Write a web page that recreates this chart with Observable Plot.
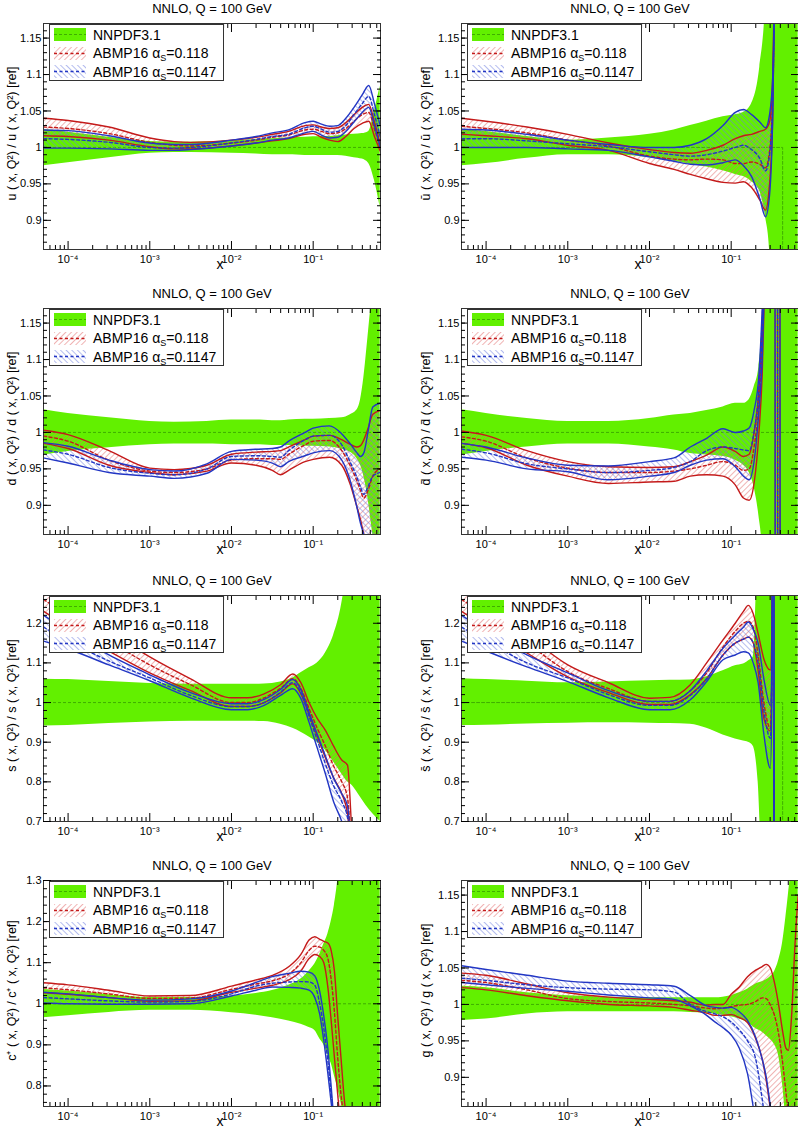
<!DOCTYPE html>
<html>
<head>
<meta charset="utf-8">
<script src="https://cdn.jsdelivr.net/npm/d3@7"></script>
<script src="https://cdn.jsdelivr.net/npm/@observablehq/plot@0.6"></script>
<style>
  html,body{margin:0;padding:0;background:#fff;}
  #page{position:relative;width:798px;height:1135px;overflow:hidden;background:#fff;font-family:"Liberation Sans",Arial,Helvetica,sans-serif;}
  .panel{position:absolute;width:400px;height:285px;}
  .panel > svg{position:absolute;left:0;top:0;}
  .legend{position:absolute;width:173px;height:55px;background:#fff;border:1px solid #333;font-size:14px;line-height:1;color:#000;}
  .legend .row{position:absolute;left:4px;height:16px;display:flex;align-items:center;white-space:nowrap;}
  .legend .row svg{margin-right:7px;flex:none;}
  .legend sub{font-size:9px;vertical-align:-3px;line-height:0;}
</style>
</head>
<body>
<svg width="0" height="0" style="position:absolute">
  <defs>
    <pattern id="hatchRed" patternUnits="userSpaceOnUse" width="4" height="4" patternTransform="rotate(45)">
      <line x1="0" y1="0" x2="0" y2="4" stroke="#e26a6a" stroke-width="1"/>
    </pattern>
    <pattern id="hatchBlue" patternUnits="userSpaceOnUse" width="4" height="4" patternTransform="rotate(-45)">
      <line x1="0" y1="0" x2="0" y2="4" stroke="#6c7ce0" stroke-width="1"/>
    </pattern>
  </defs>
</svg>
<div id="page"></div>
<script>
// ---------------- text ----------------
const TITLE = "NNLO, Q = 100 GeV";
const legendLabels = ["NNPDF3.1", "ABMP16 α<sub>S</sub>=0.118", "ABMP16 α<sub>S</sub>=0.1147"];
const xMajorTicks = [1e-4, 1e-3, 1e-2, 1e-1];
const yTicksFine = [0.9, 0.95, 1, 1.05, 1.1, 1.15];
const yTicksS = [0.7, 0.8, 0.9, 1, 1.1, 1.2];
const yTicksC = [0.8, 0.9, 1, 1.1, 1.2, 1.3];

// ---------------- u ----------------
const uLogX    = [-4.3,-4,-3.5,-3,-2.7,-2.5,-2,-1.7,-1.5,-1.3,-1.1,-1.0,-0.9,-0.8,-0.7,-0.6,-0.5,-0.4,-0.32,-0.25,-0.18];
const uGreenHi = [1.025,1.021,1.014,1.008,1.007,1.007,1.009,1.011,1.012,1.013,1.014,1.0145,1.015,1.015,1.016,1.017,1.018,1.019,1.022,1.05,1.084];
const uGreenLo = [0.975,0.979,0.986,0.992,0.993,0.993,0.992,0.991,0.99,0.99,0.989,0.989,0.989,0.989,0.989,0.988,0.986,0.984,0.978,0.955,0.918];
const uRedHi   = [1.04,1.037,1.028,1.013,1.008,1.007,1.01,1.014,1.018,1.022,1.03,1.031,1.028,1.026,1.027,1.034,1.045,1.055,1.059,1.035,1.005];
const uRedC    = [1.028,1.026,1.019,1.007,1.003,1.002,1.006,1.01,1.014,1.017,1.024,1.025,1.022,1.019,1.02,1.026,1.036,1.045,1.048,1.025,1.0];
const uRedLo   = [1.016,1.015,1.01,1.001,0.998,0.998,1.002,1.006,1.009,1.012,1.018,1.019,1.014,1.01,1.008,1.015,1.026,1.033,1.036,1.015,0.995];
const uBlueHi  = [1.024,1.023,1.016,1.006,1.004,1.004,1.01,1.015,1.02,1.024,1.034,1.036,1.032,1.029,1.03,1.04,1.055,1.072,1.085,1.06,1.03];
const uBlueC   = [1.012,1.011,1.007,1.0,0.999,1.0,1.006,1.011,1.015,1.018,1.027,1.029,1.025,1.021,1.022,1.03,1.045,1.06,1.07,1.045,1.015];
const uBlueLo  = [0.999,0.999,0.998,0.996,0.996,0.997,1.002,1.006,1.01,1.013,1.02,1.022,1.017,1.013,1.014,1.022,1.035,1.048,1.055,1.03,1.0];

// ---------------- ubar ----------------
const ubLogX    = [-4.3,-4,-3.5,-3,-2.5,-2,-1.7,-1.5,-1.3,-1.1,-0.95,-0.85,-0.75,-0.65,-0.58,-0.53,-0.49,-0.46,-0.43,-0.35,-0.18];
const ubGreenHi = [1.025,1.022,1.015,1.01,1.013,1.018,1.024,1.03,1.036,1.042,1.045,1.048,1.06,1.11,1.2,1.4,1.5,1.5,1.5,1.5,1.5];
const ubGreenLo = [0.975,0.978,0.985,0.99,0.99,0.986,0.981,0.977,0.973,0.968,0.963,0.96,0.953,0.94,0.905,0.86,0.5,0.5,0.5,0.5,0.5];
const ubRedHi   = [1.04,1.036,1.028,1.018,1.006,0.997,0.993,0.992,0.996,1.003,1.012,1.016,1.018,1.022,1.025,1.035,1.1,1.3,1.6,2,2];
const ubRedC    = [1.029,1.026,1.02,1.01,1.002,0.988,0.984,0.983,0.984,0.983,0.978,0.978,0.98,0.977,0.972,0.995,1.08,1.3,1.6,2,2];
const ubRedLo   = [1.018,1.016,1.012,1.003,0.996,0.978,0.97,0.963,0.957,0.952,0.951,0.953,0.945,0.928,0.914,0.95,1.05,1.3,1.6,2,2];
const ubBlueHi  = [1.025,1.024,1.018,1.01,1.004,1.0,1.0,1.003,1.012,1.03,1.048,1.052,1.045,1.035,1.027,1.045,1.1,1.3,1.6,2,2];
const ubBlueC   = [1.012,1.012,1.009,1.005,1.001,0.994,0.99,0.988,0.99,0.995,1.0,1.003,0.997,0.985,0.968,0.99,1.07,1.3,1.6,2,2];
const ubBlueLo  = [1.0,1.0,1.0,0.998,0.996,0.987,0.981,0.977,0.976,0.979,0.983,0.975,0.96,0.93,0.905,0.935,1.05,1.3,1.6,2,2];
const ubCentreLogX = [-4.3,-0.37,-0.37];
const ubCentreY    = [1,1,0.5];

// ---------------- d ----------------
const dLogX    = [-4.3,-4,-3.5,-3,-2.7,-2.3,-2,-1.7,-1.5,-1.4,-1.3,-1.1,-1.0,-0.8,-0.65,-0.55,-0.47,-0.42,-0.38,-0.33,-0.27,-0.18];
const dGreenHi = [1.031,1.026,1.02,1.015,1.014,1.015,1.017,1.017,1.016,1.016,1.017,1.018,1.018,1.019,1.02,1.024,1.03,1.045,1.075,1.13,1.2,1.3];
const dGreenLo = [0.969,0.974,0.979,0.983,0.984,0.984,0.983,0.983,0.982,0.982,0.982,0.981,0.981,0.98,0.977,0.973,0.965,0.955,0.94,0.91,0.86,0.8];
const dRedHi   = [1.003,0.997,0.975,0.951,0.949,0.955,0.97,0.973,0.974,0.975,0.98,0.99,0.995,0.996,0.99,0.984,0.98,0.982,0.99,1.005,1.025,1.03];
const dRedC    = [0.995,0.988,0.962,0.947,0.945,0.95,0.962,0.964,0.964,0.963,0.97,0.983,0.988,0.989,0.975,0.955,0.935,0.92,0.91,0.92,0.94,0.95];
const dRedLo   = [0.985,0.978,0.955,0.945,0.942,0.947,0.958,0.955,0.948,0.942,0.948,0.96,0.963,0.966,0.955,0.93,0.9,0.88,0.86,0.84,0.82,0.8];
const dBlueHi  = [0.986,0.981,0.962,0.949,0.947,0.957,0.974,0.977,0.978,0.98,0.988,1.0,1.006,1.009,0.998,0.985,0.973,0.967,0.972,1.0,1.035,1.04];
const dBlueC   = [0.976,0.97,0.952,0.944,0.942,0.95,0.967,0.968,0.967,0.966,0.975,0.99,0.995,0.996,0.983,0.96,0.94,0.925,0.915,0.925,0.94,0.945];
const dBlueLo  = [0.965,0.958,0.945,0.94,0.937,0.944,0.963,0.962,0.958,0.953,0.96,0.968,0.972,0.975,0.962,0.935,0.9,0.875,0.86,0.84,0.82,0.8];

// ---------------- dbar ----------------
const dbLogX    = [-4.3,-4,-3.5,-3,-2.5,-2,-1.7,-1.5,-1.3,-1.1,-0.95,-0.85,-0.78,-0.72,-0.66,-0.62,-0.58,-0.5,-0.465,-0.455,-0.435,-0.425,-0.405,-0.395,-0.18];
const dbGreenHi = [1.031,1.026,1.019,1.015,1.015,1.019,1.024,1.026,1.03,1.035,1.04,1.04,1.045,1.062,1.09,1.15,1.3,1.5,1.5,1.5,1.5,1.5,1.5,1.5,1.5];
const dbGreenLo = [0.969,0.974,0.98,0.984,0.984,0.98,0.976,0.971,0.969,0.967,0.962,0.955,0.945,0.925,0.885,0.84,0.7,0.5,0.5,0.5,0.5,0.5,0.5,0.5,0.5];
const dbRedHi   = [1.002,0.996,0.975,0.96,0.953,0.952,0.953,0.96,0.969,0.98,0.974,0.967,0.97,1.0,1.06,1.15,1.3,1.6,1.6,-0.5,-0.5,-0.5,-0.5,-0.5,-0.5];
const dbRedC    = [0.994,0.988,0.965,0.951,0.945,0.945,0.947,0.95,0.955,0.96,0.955,0.948,0.95,0.98,1.04,1.12,1.28,1.6,1.6,1.6,1.6,-0.5,-0.5,-0.5,-0.5];
const dbRedLo   = [0.985,0.979,0.955,0.94,0.93,0.932,0.933,0.94,0.942,0.94,0.928,0.91,0.907,0.93,1.0,1.08,1.25,1.6,1.6,1.6,1.6,1.6,1.6,-0.5,-0.5];
const dbBlueHi  = [0.985,0.98,0.965,0.955,0.954,0.96,0.965,0.98,0.992,1.005,1.0,1.002,1.006,1.03,1.08,1.17,1.3,1.6,1.6,-0.5,-0.5,-0.5,-0.5,-0.5,-0.5];
const dbBlueC   = [0.977,0.972,0.957,0.95,0.945,0.948,0.952,0.96,0.975,0.98,0.978,0.976,0.975,1.0,1.06,1.14,1.28,1.6,1.6,1.6,1.6,-0.5,-0.5,-0.5,-0.5];
const dbBlueLo  = [0.966,0.962,0.95,0.946,0.935,0.94,0.945,0.955,0.962,0.964,0.953,0.94,0.935,0.96,1.03,1.1,1.26,1.6,1.6,1.6,1.6,1.6,1.6,-0.5,-0.5];

// ---------------- s ----------------
const sLogX    = [-4.3,-4,-3.5,-3,-2.5,-2,-1.8,-1.6,-1.4,-1.25,-1.15,-1.05,-0.95,-0.85,-0.75,-0.65,-0.58,-0.52,-0.45,-0.35,-0.18];
const sGreenHi = [1.059,1.058,1.053,1.048,1.046,1.046,1.046,1.047,1.052,1.062,1.075,1.088,1.1,1.125,1.17,1.25,1.35,1.5,1.5,1.5,1.5];
const sGreenLo = [0.941,0.942,0.947,0.951,0.953,0.953,0.953,0.952,0.945,0.935,0.925,0.913,0.9,0.88,0.85,0.82,0.8,0.79,0.77,0.74,0.7];
const sRedHi   = [1.29,1.25,1.18,1.115,1.06,1.012,1.012,1.022,1.045,1.072,1.05,1.0,0.96,0.93,0.89,0.855,0.842,0.65,0.5,0.5,0.5];
const sRedC    = [1.26,1.22,1.155,1.095,1.045,1.0,1.0,1.012,1.036,1.06,1.036,0.985,0.935,0.89,0.84,0.8,0.76,0.6,0.5,0.5,0.5];
const sRedLo   = [1.23,1.19,1.13,1.075,1.03,0.99,0.99,1.0,1.024,1.047,1.022,0.97,0.915,0.86,0.81,0.77,0.72,0.6,0.5,0.5,0.5];
const sBlueHi  = [1.22,1.18,1.12,1.07,1.025,0.997,0.997,1.008,1.033,1.058,1.032,0.975,0.92,0.865,0.81,0.77,0.74,0.6,0.5,0.5,0.5];
const sBlueC   = [1.19,1.155,1.105,1.062,1.018,0.99,0.99,1.0,1.026,1.05,1.024,0.965,0.905,0.845,0.79,0.75,0.71,0.6,0.5,0.5,0.5];
const sBlueLo  = [1.155,1.135,1.095,1.055,1.012,0.982,0.982,0.993,1.018,1.035,1.01,0.95,0.885,0.82,0.75,0.7,0.65,0.55,0.5,0.5,0.5];

// ---------------- sbar ----------------
const sbLogX    = [-4.3,-4,-3.5,-3,-2.5,-2,-1.75,-1.5,-1.3,-1.1,-0.95,-0.85,-0.79,-0.73,-0.67,-0.6,-0.52,-0.5,-0.49,-0.48,-0.47,-0.18];
const sbGreenHi = [1.06,1.058,1.054,1.05,1.052,1.055,1.056,1.057,1.065,1.08,1.093,1.097,1.105,1.115,1.4,1.5,1.5,1.5,1.5,1.5,1.5,1.5];
const sbGreenLo = [0.942,0.943,0.946,0.948,0.949,0.948,0.947,0.945,0.935,0.918,0.908,0.903,0.9,0.89,0.8,0.5,0.5,0.5,0.5,0.5,0.5,0.5];
const sbRedHi   = [1.29,1.25,1.17,1.095,1.05,1.011,1.013,1.045,1.1,1.158,1.2,1.23,1.245,1.224,1.174,1.11,1.082,1.2,1.6,2,-1,-1];
const sbRedC    = [1.26,1.22,1.15,1.078,1.035,1.003,1.003,1.03,1.075,1.14,1.18,1.2,1.205,1.19,1.12,1.0,0.935,1.1,1.6,2,-1,-1];
const sbRedLo   = [1.23,1.19,1.125,1.065,1.025,0.995,0.995,1.02,1.06,1.12,1.15,1.16,1.165,1.15,1.08,0.96,0.928,1.1,1.6,2,-1,-1];
const sbBlueHi  = [1.22,1.18,1.12,1.075,1.03,1.003,1.003,1.03,1.08,1.137,1.17,1.19,1.203,1.185,1.15,1.06,0.993,1.15,1.6,2,-1,-1];
const sbBlueC   = [1.19,1.155,1.1,1.062,1.02,0.993,0.993,1.018,1.06,1.12,1.15,1.16,1.165,1.15,1.1,0.98,0.91,1.1,1.6,2,-1,-1];
const sbBlueLo  = [1.155,1.13,1.09,1.053,1.012,0.982,0.982,1.007,1.053,1.108,1.12,1.128,1.125,1.1,1.05,0.92,0.834,1.05,1.6,2,-1,-1];
const sbCentreLogX = [-4.3,-0.37,-0.37];
const sbCentreY    = [1,1,0.5];

// ---------------- c+ ----------------
const cLogX    = [-4.3,-4,-3.5,-3,-2.5,-2,-1.7,-1.5,-1.3,-1.15,-1.05,-0.98,-0.92,-0.87,-0.82,-0.78,-0.74,-0.7,-0.66,-0.62,-0.58,-0.5,-0.18];
const cGreenHi = [1.035,1.031,1.022,1.015,1.015,1.019,1.025,1.032,1.045,1.06,1.08,1.097,1.12,1.145,1.17,1.2,1.24,1.3,1.4,1.5,1.5,1.5,1.5];
const cGreenLo = [0.966,0.971,0.979,0.984,0.984,0.978,0.972,0.966,0.958,0.95,0.942,0.935,0.915,0.9,0.875,0.855,0.825,0.795,0.76,0.72,0.68,0.6,0.5];
const cRedHi   = [1.051,1.046,1.033,1.019,1.02,1.043,1.058,1.069,1.09,1.12,1.155,1.163,1.157,1.152,1.148,1.13,1.08,0.97,0.87,0.77,0.7,0.6,0.5];
const cRedC    = [1.039,1.034,1.024,1.013,1.014,1.035,1.048,1.056,1.072,1.1,1.13,1.14,1.138,1.13,1.11,1.06,0.98,0.87,0.78,0.72,0.65,0.6,0.5];
const cRedLo   = [1.027,1.023,1.015,1.006,1.007,1.028,1.038,1.045,1.058,1.08,1.11,1.12,1.115,1.1,1.04,0.96,0.87,0.78,0.7,0.65,0.6,0.55,0.5];
const cBlueHi  = [1.028,1.024,1.015,1.009,1.012,1.031,1.052,1.066,1.074,1.079,1.077,1.068,1.03,0.97,0.89,0.8,0.7,0.6,0.55,0.5,0.5,0.5,0.5];
const cBlueC   = [1.015,1.012,1.007,1.004,1.006,1.024,1.043,1.05,1.053,1.054,1.053,1.045,1.0,0.94,0.86,0.78,0.7,0.6,0.55,0.5,0.5,0.5,0.5];
const cBlueLo  = [1.002,1.0,0.999,0.999,1.0,1.019,1.033,1.041,1.04,1.038,1.033,1.015,0.975,0.91,0.83,0.76,0.68,0.6,0.55,0.5,0.5,0.5,0.5];

// ---------------- g ----------------
const gLogX    = [-4.3,-4,-3.5,-3,-2.5,-2,-1.7,-1.5,-1.3,-1.2,-1.1,-1.0,-0.9,-0.8,-0.7,-0.62,-0.57,-0.52,-0.47,-0.42,-0.37,-0.33,-0.3,-0.26,-0.22,-0.18];
const gGreenHi = [1.025,1.023,1.016,1.012,1.01,1.009,1.009,1.009,1.009,1.009,1.01,1.012,1.016,1.021,1.028,1.031,1.034,1.038,1.045,1.06,1.085,1.12,1.15,1.2,1.3,1.3];
const gGreenLo = [0.978,0.98,0.987,0.99,0.99,0.99,0.99,0.989,0.988,0.987,0.985,0.983,0.98,0.975,0.967,0.962,0.957,0.952,0.945,0.93,0.89,0.84,0.8,0.7,0.6,0.6];
const gRedHi   = [1.043,1.04,1.028,1.016,1.01,1.007,1.005,1.003,0.999,1.0,1.0,1.014,1.024,1.038,1.047,1.052,1.055,1.05,1.03,1.0,0.963,0.94,0.937,0.985,1.08,1.15];
const gRedC    = [1.033,1.03,1.02,1.008,1.004,1.002,1.0,0.998,0.995,0.994,0.995,0.997,0.999,1.0,1.004,1.009,1.008,0.999,0.985,0.96,0.92,0.88,0.85,0.8,0.75,0.7];
const gRedLo   = [1.023,1.02,1.012,1.005,1.0,0.998,0.996,0.992,0.988,0.985,0.985,0.986,0.982,0.975,0.953,0.925,0.895,0.855,0.8,0.75,0.7,0.7,0.7,0.7,0.7,0.7];
const gBlueHi  = [1.053,1.048,1.04,1.032,1.029,1.027,1.025,1.012,0.998,0.996,0.995,0.996,0.99,0.978,0.955,0.925,0.9,0.86,0.82,0.78,0.75,0.7,0.7,0.7,0.7,0.7];
const gBlueC   = [1.036,1.033,1.027,1.023,1.021,1.02,1.017,1.0,0.99,0.987,0.983,0.976,0.965,0.95,0.925,0.87,0.83,0.8,0.75,0.7,0.7,0.7,0.7,0.7,0.7,0.7];
const gBlueLo  = [1.03,1.027,1.022,1.018,1.013,1.009,1.007,0.998,0.985,0.976,0.968,0.958,0.94,0.905,0.84,0.8,0.75,0.7,0.7,0.7,0.7,0.7,0.7,0.7,0.7,0.7];

// ---------------- layout / style ----------------
const FONT = '"Liberation Sans", Arial, Helvetica, sans-serif';
const GREEN = "#62f000", GREEN_LINE = "#3fae00", RED = "#c41a1a", BLUE = "#2236c4";
const X_DOMAIN = [5e-5, 0.667];
const FRAME_TOPS = [23, 308, 595, 880];

const panels = [
  {col:0,row:0,label:"u ( x, Q²) / u ( x, Q²) [ref]", yDomain:[0.86,1.17], yMajor:yTicksFine, minor:[0.87,1.16,0.01],
   logX:uLogX,gHi:uGreenHi,gLo:uGreenLo,rHi:uRedHi,rC:uRedC,rLo:uRedLo,bHi:uBlueHi,bC:uBlueC,bLo:uBlueLo},
  {col:1,row:0,label:"ū ( x, Q²) / ū ( x, Q²) [ref]", yDomain:[0.86,1.17], yMajor:yTicksFine, minor:[0.87,1.16,0.01],
   logX:ubLogX,gHi:ubGreenHi,gLo:ubGreenLo,rHi:ubRedHi,rC:ubRedC,rLo:ubRedLo,bHi:ubBlueHi,bC:ubBlueC,bLo:ubBlueLo,
   centreLogX:ubCentreLogX, centreY:ubCentreY},
  {col:0,row:1,label:"d ( x, Q²) / d ( x, Q²) [ref]", yDomain:[0.86,1.17], yMajor:yTicksFine, minor:[0.87,1.16,0.01],
   logX:dLogX,gHi:dGreenHi,gLo:dGreenLo,rHi:dRedHi,rC:dRedC,rLo:dRedLo,bHi:dBlueHi,bC:dBlueC,bLo:dBlueLo},
  {col:1,row:1,label:"d\u0304 ( x, Q²) / d\u0304 ( x, Q²) [ref]", yDomain:[0.86,1.17], yMajor:yTicksFine, minor:[0.87,1.16,0.01],
   logX:dbLogX,gHi:dbGreenHi,gLo:dbGreenLo,rHi:dbRedHi,rC:dbRedC,rLo:dbRedLo,bHi:dbBlueHi,bC:dbBlueC,bLo:dbBlueLo},
  {col:0,row:2,label:"s ( x, Q²) / s ( x, Q²) [ref]", yDomain:[0.7,1.27], yMajor:yTicksS, minor:[0.72,1.26,0.02],
   logX:sLogX,gHi:sGreenHi,gLo:sGreenLo,rHi:sRedHi,rC:sRedC,rLo:sRedLo,bHi:sBlueHi,bC:sBlueC,bLo:sBlueLo},
  {col:1,row:2,label:"s\u0304 ( x, Q²) / s\u0304 ( x, Q²) [ref]", yDomain:[0.7,1.27], yMajor:yTicksS, minor:[0.72,1.26,0.02],
   logX:sbLogX,gHi:sbGreenHi,gLo:sbGreenLo,rHi:sbRedHi,rC:sbRedC,rLo:sbRedLo,bHi:sbBlueHi,bC:sbBlueC,bLo:sbBlueLo,
   centreLogX:sbCentreLogX, centreY:sbCentreY},
  {col:0,row:3,label:"c⁺ ( x, Q²) / c⁺ ( x, Q²) [ref]", yDomain:[0.75,1.3], yMajor:yTicksC, minor:[0.76,1.28,0.02],
   logX:cLogX,gHi:cGreenHi,gLo:cGreenLo,rHi:cRedHi,rC:cRedC,rLo:cRedLo,bHi:cBlueHi,bC:cBlueC,bLo:cBlueLo},
  {col:1,row:3,label:"g ( x, Q²) / g ( x, Q²) [ref]", yDomain:[0.86,1.17], yMajor:yTicksFine, minor:[0.87,1.16,0.01],
   logX:gLogX,gHi:gGreenHi,gLo:gGreenLo,rHi:gRedHi,rC:gRedC,rLo:gRedLo,bHi:gBlueHi,bC:gBlueC,bLo:gBlueLo}
];

const SUP = {"-":"⁻","0":"⁰","1":"¹","2":"²","3":"³","4":"⁴","5":"⁵","6":"⁶","7":"⁷","8":"⁸","9":"⁹"};
const fmtX = d => "10" + String(Math.round(Math.log10(d))).split("").map(c => SUP[c]).join("");
const fmtY = d => String(+d.toFixed(2));
const blank = () => "";

const xMinorTicks = [];
for (let n = -5; n <= -1; n++) for (let k = 2; k <= 9; k++) {
  const v = k * 10 ** n;
  if (v > X_DOMAIN[0] && v < X_DOMAIN[1]) xMinorTicks.push(v);
}

function buildPanel(p) {
  const rows = p.logX.map((l, i) => ({
    x: 10 ** l, gLo: p.gLo[i], gHi: p.gHi[i],
    rLo: p.rLo[i], rC: p.rC[i], rHi: p.rHi[i],
    bLo: p.bLo[i], bC: p.bC[i], bHi: p.bHi[i]
  }));
  const [m0, m1, step] = p.minor;
  const yMinor = d3.range(Math.round((m1 - m0) / step) + 1).map(i => +(m0 + i * step).toFixed(3));
  const curve = "monotone-x";
  const solid = {curve, clip: true, strokeWidth: 1.4};
  const dashed = {curve, clip: true, strokeWidth: 1.4, strokeDasharray: "3,2.5"};
  const centre = p.centreLogX
    ? Plot.line(p.centreLogX.map((l, i) => ({x: 10 ** l, y: p.centreY[i]})),
        {x: "x", y: "y", stroke: GREEN_LINE, strokeWidth: 1, strokeDasharray: "3,2", clip: true})
    : Plot.ruleY([1], {stroke: GREEN_LINE, strokeWidth: 1, strokeDasharray: "3,2"});
  const left = p.col === 0;
  return Plot.plot({
    width: 400, height: 285,
    marginTop: 23, marginBottom: 36,
    marginLeft: left ? 43 : 61, marginRight: left ? 20 : 2,
    x: {type: "log", domain: X_DOMAIN, axis: null},
    y: {domain: p.yDomain, axis: null},
    style: {fontFamily: FONT, fontSize: "11px", color: "#000", background: "transparent", overflow: "visible"},
    marks: [
      Plot.areaY(rows, {x: "x", y1: "gLo", y2: "gHi", fill: GREEN, curve, clip: true}),
      centre,
      Plot.areaY(rows, {x: "x", y1: "rLo", y2: "rHi", fill: "url(#hatchRed)", curve, clip: true}),
      Plot.areaY(rows, {x: "x", y1: "bLo", y2: "bHi", fill: "url(#hatchBlue)", curve, clip: true}),
      Plot.line(rows, {x: "x", y: "rHi", stroke: RED, ...solid}),
      Plot.line(rows, {x: "x", y: "rLo", stroke: RED, ...solid}),
      Plot.line(rows, {x: "x", y: "rC", stroke: RED, ...dashed}),
      Plot.line(rows, {x: "x", y: "bHi", stroke: BLUE, ...solid}),
      Plot.line(rows, {x: "x", y: "bLo", stroke: BLUE, ...solid}),
      Plot.line(rows, {x: "x", y: "bC", stroke: BLUE, ...dashed}),
      Plot.frame({stroke: "#333", strokeWidth: 1}),
      Plot.axisX({ticks: xMajorTicks, anchor: "bottom", tickSize: -8, tickPadding: 14, tickFormat: fmtX, fontSize: 11, label: null}),
      Plot.axisX({ticks: xMinorTicks, anchor: "bottom", tickSize: -4, tickFormat: blank, label: null}),
      Plot.axisX({ticks: xMajorTicks, anchor: "top", tickSize: -8, tickFormat: blank, label: null}),
      Plot.axisX({ticks: xMinorTicks, anchor: "top", tickSize: -4, tickFormat: blank, label: null}),
      Plot.axisY({ticks: p.yMajor, anchor: "left", tickSize: -8, tickPadding: 10, tickFormat: fmtY, fontSize: 11, label: null}),
      Plot.axisY({ticks: yMinor, anchor: "left", tickSize: -4, tickFormat: blank, label: null}),
      Plot.axisY({ticks: p.yMajor, anchor: "right", tickSize: -8, tickFormat: blank, label: null}),
      Plot.axisY({ticks: yMinor, anchor: "right", tickSize: -4, tickFormat: blank, label: null}),
      Plot.text([TITLE], {text: d => d, frameAnchor: "top", textAnchor: "middle", lineAnchor: "middle", dy: -15, fontSize: 13}),
      Plot.text([p.label], {text: d => d, frameAnchor: "left", textAnchor: "middle", lineAnchor: "middle", rotate: -90, dx: left ? -32 : -36, dy: -3, fontSize: 12.5}),
      Plot.text(["x"], {text: d => d, frameAnchor: "bottom", textAnchor: "middle", lineAnchor: "middle", dx: 8, dy: 15, fontSize: 14})
    ]
  });
}

function buildLegend(p) {
  const box = document.createElement("div");
  box.className = "legend";
  box.style.left = ((p.col === 0 ? 43 : 61) + 6) + "px";
  box.style.top = "24px";
  const swatches = [
    `<svg width="32" height="13"><rect width="32" height="13" fill="${GREEN}"/><line x1="0" x2="32" y1="6.5" y2="6.5" stroke="${GREEN_LINE}" stroke-dasharray="3,2"/></svg>`,
    `<svg width="32" height="13"><rect width="32" height="13" fill="url(#hatchRed)"/><line x1="0" x2="32" y1="6.5" y2="6.5" stroke="${RED}" stroke-width="1.4" stroke-dasharray="3,2.5"/></svg>`,
    `<svg width="32" height="13"><rect width="32" height="13" fill="url(#hatchBlue)"/><line x1="0" x2="32" y1="6.5" y2="6.5" stroke="${BLUE}" stroke-width="1.4" stroke-dasharray="3,2.5"/></svg>`
  ];
  legendLabels.forEach((lab, i) => {
    const row = document.createElement("div");
    row.className = "row";
    row.style.top = (1.5 + 18.7 * i) + "px";
    row.innerHTML = swatches[i] + `<span>${lab}</span>`;
    box.appendChild(row);
  });
  return box;
}

const page = document.getElementById("page");
panels.forEach(p => {
  const div = document.createElement("div");
  div.className = "panel";
  div.style.left = (p.col * 400) + "px";
  div.style.top = (FRAME_TOPS[p.row] - 23) + "px";
  div.appendChild(buildPanel(p));
  div.appendChild(buildLegend(p));
  page.appendChild(div);
});
</script>
</body>
</html>
